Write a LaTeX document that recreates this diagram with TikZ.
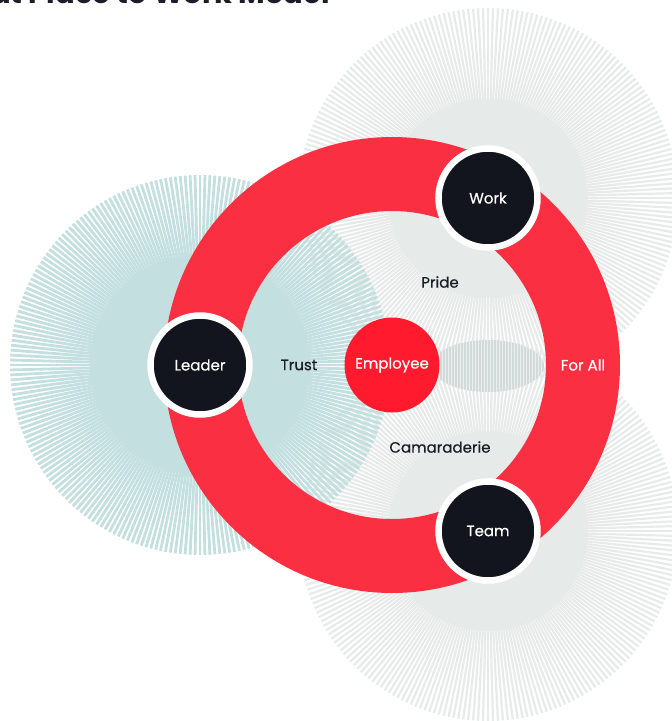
\documentclass[tikz,border=0pt]{standalone}
\usepackage{fontspec}
\setmainfont{Poppins}
\newfontfamily\medfont{Poppins}[FakeBold=0.5]
\definecolor{tealray}{HTML}{C4DFDF}
\definecolor{grayray}{HTML}{E6EBEA}
\definecolor{grayfill}{HTML}{EAEEED}
\definecolor{ringred}{HTML}{FA2F41}
\definecolor{emred}{HTML}{FF1A2D}
\definecolor{darknode}{HTML}{12151D}
\definecolor{ellgray}{HTML}{D3DBDA}
\definecolor{labeldark}{HTML}{1B1E26}
\tikzset{
  pillar/.style={circle, fill=darknode, draw=white, line width=6.5pt, minimum size=99pt, inner sep=0pt, text=white, font=\medfont\fontsize{15}{18}\selectfont},
  core/.style={circle, fill=emred, minimum size=95pt, inner sep=0pt, text=white, font=\medfont\fontsize{15}{18}\selectfont},
  lbl/.style={text=labeldark, font=\medfont\fontsize{15}{18}\selectfont, inner sep=0pt},
  wlbl/.style={text=white, font=\medfont\fontsize{15}{18}\selectfont, inner sep=0pt},
}
\begin{document}
\begin{tikzpicture}[x=1pt,y=-1pt]
\useasboundingbox (0,0) rectangle (672,721);
% title (cut off at top)
\node[anchor=base east, inner sep=0pt, font=\fontsize{29}{33}\selectfont\bfseries, text=labeldark] (title) at (330,3) {Great Place to Work Model};
% centres
\coordinate (cw) at (488,198);
\coordinate (ct) at (488,531);
\coordinate (cl) at (200,365);
\coordinate (cr) at (392,365);
% gray sunbursts (Work, Team)
\fill[grayfill] (cw) circle (100);
\fill[grayfill] (ct) circle (100);
\foreach \a in {0,1.5,...,358.5} {
  \draw[grayray, line width=2.2pt] (cw) -- ++(\a:190);
  \draw[grayray, line width=2.2pt] (ct) -- ++(\a:190);
}
% ellipse of vertical stripes
\begin{scope}
  \clip (488,366) ellipse (56 and 26);
  \fill[grayfill] (488,366) ellipse (56 and 26);
  \foreach \x in {432,435,...,546} {
    \draw[ellgray, line width=1.4pt] (\x,338) -- (\x,394);
  }
\end{scope}
% teal sunburst (Leader)
\fill[tealray] (cl) circle (110);
\foreach \a in {0,1.5,...,358.5} {
  \draw[tealray, line width=2.8pt] (cl) -- ++(\a:190);
}
% red ring
\fill[ringred, even odd rule] (cr) circle (228) (cr) circle (154);
% nodes
\node[core] (employee) at (cr) {Employee};
\node[pillar] (leader) at (200,365) {Leader};
\node[pillar] (work) at (488,198) {Work};
\node[pillar] (team) at (488,531) {Team};
\node[lbl] (trust) at (299,365) {Trust};
\node[lbl] (pride) at (440,282) {Pride};
\node[lbl] (cam) at (440,447) {Camaraderie};
\node[wlbl] (forall) at (583,365) {For All};
\end{tikzpicture}
\end{document}
